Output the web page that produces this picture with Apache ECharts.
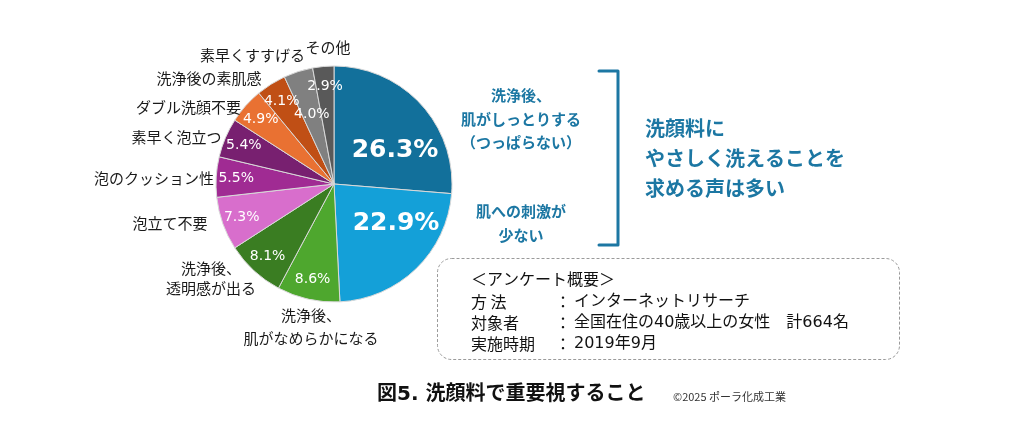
<!DOCTYPE html>
<html><head><meta charset="utf-8">
<script src="https://cdn.jsdelivr.net/npm/echarts@6/dist/echarts.min.js"></script>
<style>html,body{margin:0;padding:0;background:#fff}#c{width:1024px;height:430px}</style>
</head><body><div id="c"></div>
<script>
// ---- data ----
const categories = [
  '洗浄後、\n肌がしっとりする\n（つっぱらない）',
  '肌への刺激が\n少ない',
  '洗浄後、\n肌がなめらかになる',
  '洗浄後、\n透明感が出る',
  '泡立て不要',
  '泡のクッション性',
  '素早く泡立つ',
  'ダブル洗顔不要',
  '洗浄後の素肌感',
  '素早くすすげる',
  'その他'
];
const values = [26.3, 22.9, 8.6, 8.1, 7.3, 5.5, 5.4, 4.9, 4.1, 4.0, 2.9];
const sliceColors = ['#12709B', '#14A0D8', '#4EA72E', '#3A7D22', '#D86ECC', '#A02B93', '#782070', '#E97132', '#C04F15', '#808080', '#595959'];

const surveyTitle = '＜アンケート概要＞';
const surveyKeys = ['方 法', '対象者', '実施時期'];
const surveyVals = ['インターネットリサーチ', '全国在住の40歳以上の女性　計664名', '2019年9月'];
const headline = '洗顔料に\nやさしく洗えることを\n求める声は多い';
const figTitle = '図5. 洗顔料で重要視すること';
const credit = '©2025 ポーラ化成工業';

// ---- layout (not data) ----
const CX = 334, CY = 184, R = 118;
const outLabelCenters = [[521,119],[521,223.5],[311,326.5],[211,278],[170,223],[154,178],[176.5,137],[188.5,107],[209,78],[252.5,55],[328,47]];
const bigLabelCenters = {0: [395, 150], 1: [396, 223]};
const bigIdx = [0, 1];
const midIdx = [9];
const TEAL = '#1C77A3';
const JP = "'Noto Sans CJK JP', sans-serif";
const NUM = "'DejaVu Sans', 'Noto Sans CJK JP', sans-serif";

const chart = echarts.init(document.getElementById('c'), null, {renderer: 'canvas'});

const mainData = values.map((v, i) => ({
  value: v,
  name: categories[i],
  itemStyle: {color: sliceColors[i]},
  label: bigIdx.includes(i)
    ? {color: TEAL, fontWeight: 'bold', fontSize: 15, lineHeight: 23.5, fontFamily: JP, align: 'center'}
    : {color: '#1a1a1a', fontSize: 15, lineHeight: (i === 3 ? 20 : 23), fontFamily: JP, align: 'center'}
}));

function pctData(showIdx, big) {
  return values.map((v, i) => ({
    value: v,
    name: categories[i],
    label: {
      show: showIdx(i),
      fontSize: big(i) ? 25 : 14,
      fontWeight: big(i) ? 'bold' : 'normal'
    }
  }));
}

const option = {
  backgroundColor: '#ffffff',
  animation: false,
  series: [
    {
      type: 'pie',
      center: [CX, CY],
      radius: [0, R],
      startAngle: 90,
      clockwise: true,
      avoidLabelOverlap: false,
      itemStyle: {borderColor: '#d9d9d9', borderWidth: 1},
      label: {show: true, position: 'outside', formatter: '{b}'},
      labelLine: {show: false},
      labelLayout: function (p) {
        const c = outLabelCenters[p.dataIndex];
        return {x: c[0], y: c[1], align: 'center', verticalAlign: 'middle'};
      },
      emphasis: {disabled: true},
      data: mainData
    },
    {
      type: 'pie',
      center: [CX, CY],
      radius: [22, R],
      startAngle: 90,
      clockwise: true,
      silent: true,
      avoidLabelOverlap: false,
      itemStyle: {color: 'rgba(0,0,0,0)', borderWidth: 0},
      label: {show: true, position: 'inside', color: '#ffffff', fontFamily: NUM,
        formatter: p => values[p.dataIndex].toFixed(1) + '%'},
      labelLine: {show: false},
      labelLayout: function (p) {
        const c = bigLabelCenters[p.dataIndex];
        if (!c) return {};
        return {x: c[0], y: c[1], align: 'center', verticalAlign: 'middle'};
      },
      emphasis: {disabled: true},
      data: pctData(i => bigIdx.includes(i) || midIdx.includes(i), i => bigIdx.includes(i))
    },
    {
      type: 'pie',
      center: [CX, CY],
      radius: [72, R],
      startAngle: 90,
      clockwise: true,
      silent: true,
      avoidLabelOverlap: false,
      itemStyle: {color: 'rgba(0,0,0,0)', borderWidth: 0},
      label: {show: true, position: 'inside', color: '#ffffff', fontFamily: NUM,
        formatter: p => values[p.dataIndex].toFixed(1) + '%'},
      labelLine: {show: false},
      emphasis: {disabled: true},
      data: pctData(i => !bigIdx.includes(i) && !midIdx.includes(i), i => false)
    }
  ],
  graphic: [
    {type: 'polyline', shape: {points: [[599, 71], [618, 71], [618, 245], [599, 245]]},
      style: {stroke: TEAL, lineWidth: 3, fill: null, lineJoin: 'round', lineCap: 'round'}},
    {type: 'text', x: 645, y: 113,
      style: {text: headline, fill: TEAL, fontSize: 20, fontWeight: 'bold', fontFamily: JP, lineHeight: 30,
        align: 'left', verticalAlign: 'top', textAlign: 'left', textVerticalAlign: 'top'}},
    {type: 'rect', shape: {x: 437.5, y: 258.5, width: 462, height: 101, r: 14},
      style: {fill: null, stroke: '#9a9a9a', lineWidth: 1, lineDash: [3, 2]}},
    {type: 'text', x: 471, y: 278.5,
      style: {text: surveyTitle, fill: '#111', fontSize: 16, fontFamily: JP,
        align: 'left', verticalAlign: 'middle', textAlign: 'left', textVerticalAlign: 'middle'}},
    ...surveyKeys.map((k, i) => ({type: 'text', x: 471, y: 302 + i * 20.8,
      style: {text: k, fill: '#111', fontSize: 16, fontFamily: JP,
        align: 'left', verticalAlign: 'middle', textAlign: 'left', textVerticalAlign: 'middle'}})),
    ...surveyKeys.map((k, i) => ({type: 'text', x: 555, y: 302 + i * 20.8,
      style: {text: '：', fill: '#111', fontSize: 16, fontFamily: JP,
        align: 'left', verticalAlign: 'middle', textAlign: 'left', textVerticalAlign: 'middle'}})),
    ...surveyVals.map((v, i) => ({type: 'text', x: 574, y: 302 + i * 20.8,
      style: {text: v, fill: '#111', fontSize: 16, fontFamily: NUM,
        align: 'left', verticalAlign: 'middle', textAlign: 'left', textVerticalAlign: 'middle'}})),
    {type: 'text', x: 377, y: 395,
      style: {text: figTitle, fill: '#111', fontSize: 20, fontWeight: 'bold', fontFamily: NUM,
        align: 'left', verticalAlign: 'middle', textAlign: 'left', textVerticalAlign: 'middle'}},
    {type: 'text', x: 673, y: 397,
      style: {text: credit, fill: '#333', fontSize: 11, fontFamily: JP,
        align: 'left', verticalAlign: 'middle', textAlign: 'left', textVerticalAlign: 'middle'}}
  ]
};
chart.setOption(option);
</script>
</body></html>
